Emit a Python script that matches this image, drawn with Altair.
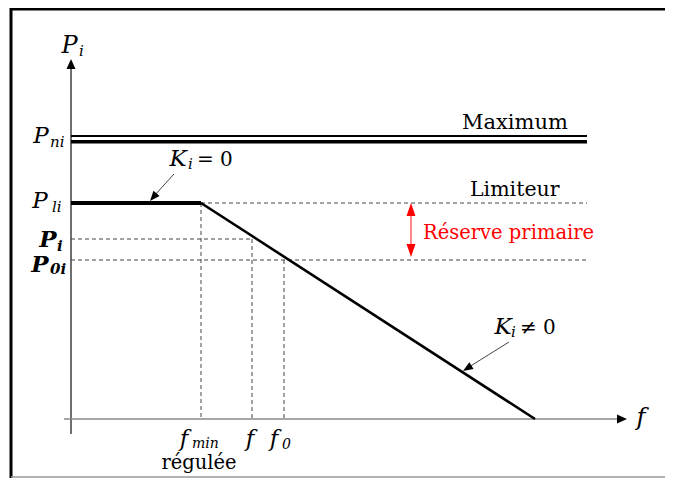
import altair as alt
import pandas as pd

# ---- schematic values (arbitrary units: frequency f, power P) ----
F_MIN = 130        # f_min régulée
F_VAL = 181        # f
F_0 = 213          # f0
F_ZERO = 464       # frequency where the droop line reaches P = 0
F_END = 516        # right end of the horizontal reference lines
P_NI = 280         # maximum power P_ni
P_LI = 216         # limiter P_li
P_I = 180          # P_i
P_0I = 159         # P_0i
X_AXIS = [-7, 546]
Y_AXIS = [-15, 350]
X_ARROW_TIP = 556
Y_ARROW_TIP = 360

X_DOMAIN = [-63, 594]
Y_DOMAIN = [-59, 411]
W, H = 657, 470
FONT = "DejaVu Serif"

xs = alt.Scale(domain=X_DOMAIN, nice=False, zero=False)
ys = alt.Scale(domain=Y_DOMAIN, nice=False, zero=False)


def enc_xy():
    return dict(x=alt.X("x:Q", scale=xs, axis=None),
                y=alt.Y("y:Q", scale=ys, axis=None))


def seg(rows, **mark):
    df = pd.DataFrame(rows, columns=["x", "y", "x2", "y2"])
    return alt.Chart(df).mark_rule(**mark).encode(x2="x2:Q", y2="y2:Q", **enc_xy())


def head(rows, L, Wd, color="black"):
    df = pd.DataFrame(rows, columns=["x", "y", "angle"])
    a = Wd / L
    path = f"M0,0L{-a:.3f},2L{a:.3f},2Z"
    return alt.Chart(df).mark_point(shape=path, size=L * L, filled=True, color=color,
                                    opacity=1, strokeWidth=0).encode(
        angle=alt.Angle("angle:Q", scale=None), **enc_xy())


def label(x, y, text, size=24, style="italic", weight="normal", dx=0, dy=0,
          align="left", color="black", font=FONT):
    df = pd.DataFrame({"x": [x], "y": [y]})
    return alt.Chart(df).mark_text(text=text, font=font, fontSize=size, fontStyle=style,
                                   fontWeight=weight, align=align, baseline="alphabetic",
                                   dx=dx, dy=dy, color=color).encode(**enc_xy())


one = pd.DataFrame({"a": [0]})
frame = [
    alt.Chart(one).mark_rule(color="black", strokeWidth=3).encode(
        x=alt.value(3), y=alt.value(0), y2=alt.value(H)),
    alt.Chart(one).mark_rule(color="black", strokeWidth=3).encode(
        x=alt.value(2), x2=alt.value(W), y=alt.value(1)),
    alt.Chart(one).mark_rule(color="#9a9a9a", strokeWidth=1.5).encode(
        x=alt.value(3), x2=alt.value(W), y=alt.value(H - 1)),
]

axes = [
    seg([[0, Y_AXIS[0], 0, Y_AXIS[1]]], color="#222222", strokeWidth=1.3),
    seg([[X_AXIS[0], 0, X_AXIS[1], 0]], color="#8a8a8a", strokeWidth=1.6),
    head([[0, Y_ARROW_TIP, 0]], 10, 9),
    head([[X_ARROW_TIP, 0, 90]], 10, 9),
]

lines = [
    seg([[0, P_NI, F_END, P_NI]], color="black", strokeWidth=2, yOffset=-3, y2Offset=-3),
    seg([[0, P_NI, F_END, P_NI]], color="black", strokeWidth=3.4, yOffset=2.7, y2Offset=2.7),
    seg([[F_MIN, P_LI, F_END, P_LI],
         [0, P_I, F_VAL, P_I],
         [0, P_0I, F_END, P_0I],
         [F_MIN, P_LI, F_MIN, 0],
         [F_VAL, P_I, F_VAL, 0],
         [F_0, P_0I, F_0, 0]],
        color="#444444", strokeWidth=1, strokeDash=[4, 3]),
    seg([[0, P_LI, F_MIN, P_LI]], color="black", strokeWidth=4.2),
    seg([[F_MIN, P_LI, F_ZERO, 0]], color="black", strokeWidth=2.6),
]

# annotation arrows
RES_F = 340
KI0_TAIL, KI0_TIP = (103, 245), (79, 218)
KIN_TAIL, KIN_TIP = (438, 77), (392, 48)
arrows = [
    seg([[RES_F, P_LI - 8, RES_F, P_0I + 8]], color="#ff6060", strokeWidth=1.5),
    head([[RES_F, P_LI, 0], [RES_F, P_0I + 3, 180]], 13, 9, color="#ff0000"),
    seg([[KI0_TAIL[0], KI0_TAIL[1], KI0_TIP[0] + 4, KI0_TIP[1] + 5],
         [KIN_TAIL[0], KIN_TAIL[1], KIN_TIP[0] + 6, KIN_TIP[1] + 4]],
        color="#444444", strokeWidth=1),
    head([[KI0_TIP[0], KI0_TIP[1], 220.6], [KIN_TIP[0], KIN_TIP[1], 237.8]], 10, 8),
]

texts = [
    # y-axis title
    label(0, Y_ARROW_TIP, "P", 24, dx=-1.5, dy=-6, align="center"),
    label(0, Y_ARROW_TIP, "i", 15, dx=8, dy=-3),
    # P labels on the y axis
    label(0, P_NI, "P", 23, dx=-30, dy=4, align="center"),
    label(0, P_NI, "ni", 15, dx=-21, dy=8),
    label(0, P_LI, "P", 23, dx=-31, dy=5, align="center"),
    label(0, P_LI, "li", 15, dx=-19, dy=9),
    label(0, P_I, "P", 23, weight="bold", dx=-23, dy=8, align="center"),
    label(0, P_I, "i", 15, weight="bold", dx=-14, dy=12),
    label(0, P_0I, "P", 23, weight="bold", dx=-31, dy=12, align="center"),
    label(0, P_0I, "0i", 15, weight="bold", dx=-21, dy=14),
    # f labels on the x axis
    label(F_MIN, 0, "f", 23, dx=-17, dy=27, align="center"),
    label(F_MIN, 0, "min", 14, dx=-9, dy=29),
    label(F_VAL, 0, "f", 23, dx=-2, dy=27, align="center"),
    label(F_0, 0, "f", 23, dx=-10, dy=27, align="center"),
    label(F_0, 0, "0", 14, dx=-2, dy=30),
    label(F_MIN, 0, "régulée", 19.5, style="normal", dx=-2, dy=50, align="center"),
    label(X_AXIS[1], 0, "f", 24, dx=24, dy=6, align="center"),
    # level labels
    label(391, P_NI, "Maximum", 21, style="normal", dy=-10),
    label(399, P_LI, "Limiteur", 20.5, style="normal", dy=-7),
    label(352, (P_LI + P_0I) / 2, "Réserve primaire", 19.5, style="normal", dy=7,
          color="#ff0000"),
    # K_i annotations
    label(98, 253, "K", 23, dx=9, align="center"),
    label(98, 253, "i", 15, dx=19, dy=3),
    label(98, 253, "= 0", 20, style="normal", dx=28),
    label(425, 85, "K", 23, dx=7, align="center"),
    label(425, 85, "i", 15, dx=15, dy=3),
    label(425, 85, "≠ 0", 20, style="normal", dx=24),
]

chart = alt.layer(*frame, *axes, *lines, *arrows, *texts).properties(
    width=W, height=H, padding=0,
    autosize=alt.AutoSizeParams(type="none"),
    background="white",
).configure_view(stroke=None)

chart.save("out.html", embed_options={"renderer": "svg", "actions": False})
